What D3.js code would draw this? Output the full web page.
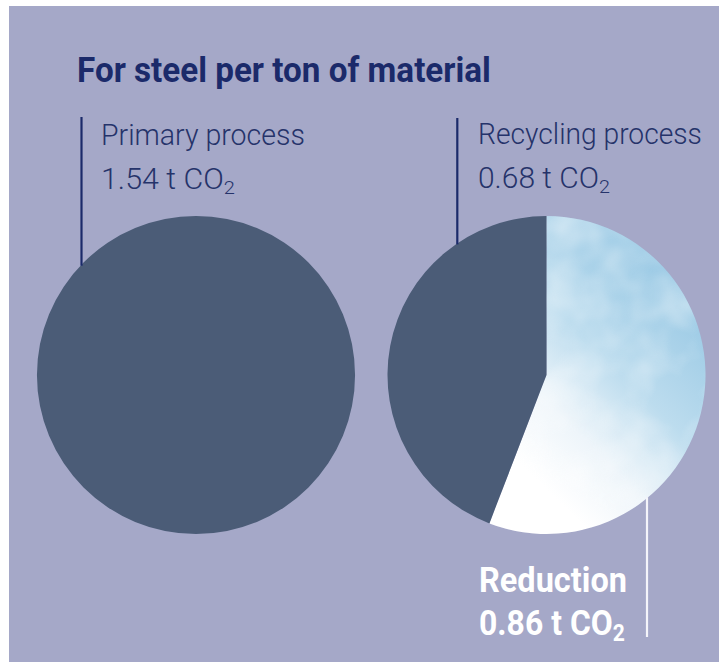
<!DOCTYPE html>
<html><head><meta charset="utf-8">
<script src="https://cdn.jsdelivr.net/npm/d3@7"></script>
<style>html,body{margin:0;padding:0;background:#fff;}svg{display:block;}</style>
</head><body>
<svg id="chart" width="719" height="663"></svg>
<script>
// ---- data ----
const title = "For steel per ton of material";
const processes = ["Primary process", "Recycling process"];
const processValues = [1.54, 0.68];
const reductionLabel = "Reduction";
const reductionValue = 0.86;
const unitLabel = "t CO";

// ---- layout ----
const W = 719, H = 663;
const svg = d3.select("#chart");
const bg = "#a5a8c8", dark = "#4b5c77", navy = "#1b2a6a", labelCol = "#25336a";

svg.append("rect").attr("x", 9).attr("y", 6).attr("width", W - 9).attr("height", H - 6 - 1).attr("fill", bg);

const defs = svg.append("defs");
const grad = defs.append("linearGradient").attr("id", "sky")
  .attr("x1", "0.9").attr("y1", "0.2").attr("x2", "0.4").attr("y2", "0.95");
grad.append("stop").attr("offset", "0").attr("stop-color", "#98c8e4");
grad.append("stop").attr("offset", "0.45").attr("stop-color", "#bcdcee");
grad.append("stop").attr("offset", "0.75").attr("stop-color", "#eef5fa");
grad.append("stop").attr("offset", "1").attr("stop-color", "#ffffff");
const filt = defs.append("filter").attr("id", "clouds").attr("x", 0).attr("y", 0).attr("width", 1).attr("height", 1);
filt.append("feTurbulence").attr("type", "fractalNoise").attr("baseFrequency", 0.018).attr("numOctaves", 3).attr("seed", 4).attr("result", "n");
filt.append("feColorMatrix").attr("in", "n").attr("type", "matrix")
  .attr("values", "0 0 0 0 1  0 0 0 0 1  0 0 0 0 1  1.6 0 0 0 -0.6").attr("result", "c");
filt.append("feComposite").attr("in", "c").attr("in2", "SourceGraphic").attr("operator", "in");

const total = processValues[0];
const r = d3.scaleSqrt().domain([0, total]).range([0, 159]);
const cx = d3.scalePoint().domain(processes).range([196, 546.5]);
const cy = 375;
const R = r(total);

const arc = d3.arc().innerRadius(0).outerRadius(R);
const pie = d3.pie().sort(null).value(d => d.v).startAngle(0).endAngle(2 * Math.PI);

// left pie
const gL = svg.append("g").attr("transform", `translate(${cx(processes[0])},${cy})`);
gL.selectAll("path").data(pie([{ k: "primary", v: processValues[0] }])).join("path")
  .attr("d", arc).attr("fill", dark);

// right pie
const gR = svg.append("g").attr("transform", `translate(${cx(processes[1])},${cy})`);
const rightData = pie([{ k: "reduction", v: reductionValue }, { k: "recycling", v: processValues[1] }]);
gR.selectAll("path.s").data(rightData).join("path").attr("class", "s")
  .attr("d", arc).attr("fill", d => d.data.k === "reduction" ? "url(#sky)" : dark);
gR.append("path").attr("d", arc(rightData[0])).attr("fill", "#fff").attr("opacity", 0.55)
  .attr("filter", "url(#clouds)");

// leader lines
function edgeY(lx, c) { const dx = lx - c; return Math.sqrt(R * R - dx * dx); }
const lx1 = 81.5, lx2 = 457.3, lx3 = 647;
svg.append("line").attr("x1", lx1).attr("x2", lx1).attr("y1", 117).attr("y2", cy - edgeY(lx1, cx(processes[0])) + 1)
  .attr("stroke", navy).attr("stroke-width", 2.2);
svg.append("line").attr("x1", lx2).attr("x2", lx2).attr("y1", 118).attr("y2", cy - edgeY(lx2, cx(processes[1])) + 1)
  .attr("stroke", navy).attr("stroke-width", 2.2);
svg.append("line").attr("x1", lx3).attr("x2", lx3).attr("y1", cy + edgeY(lx3, cx(processes[1])) - 1).attr("y2", 637)
  .attr("stroke", "#f4f4fa").attr("stroke-width", 2.2);

// text helper: draw then squeeze horizontally to target width
function label(x, y, parts, size, weight, color, targetW) {
  const g = svg.append("g");
  const t = g.append("text").attr("font-family", "Roboto, 'Liberation Sans', sans-serif")
    .attr("font-size", size).attr("font-weight", weight).attr("fill", color);
  parts.forEach(p => {
    const ts = t.append("tspan").text(p.t);
    if (p.sub) ts.attr("font-size", size * 0.66).attr("dy", size * 0.17);
  });
  const w = t.node().getComputedTextLength();
  g.attr("transform", `translate(${x},${y}) scale(${targetW / w},1)`);
}

label(77, 82, [{ t: title }], 35, 700, navy, 414);
label(101, 145, [{ t: processes[0] }], 29, 300, labelCol, 204);
label(101, 189, [{ t: processValues[0].toFixed(2) + " " + unitLabel }, { t: "2", sub: true }], 29, 300, labelCol, 134);
label(478, 144, [{ t: processes[1] }], 29, 300, labelCol, 224);
label(478, 188, [{ t: processValues[1].toFixed(2) + " " + unitLabel }, { t: "2", sub: true }], 29, 300, labelCol, 132);
label(479, 592, [{ t: reductionLabel }], 35, 700, "#ffffff", 148);
label(479, 635, [{ t: reductionValue.toFixed(2) + " " + unitLabel }, { t: "2", sub: true }], 35, 700, "#ffffff", 146);
</script>
</body></html>
